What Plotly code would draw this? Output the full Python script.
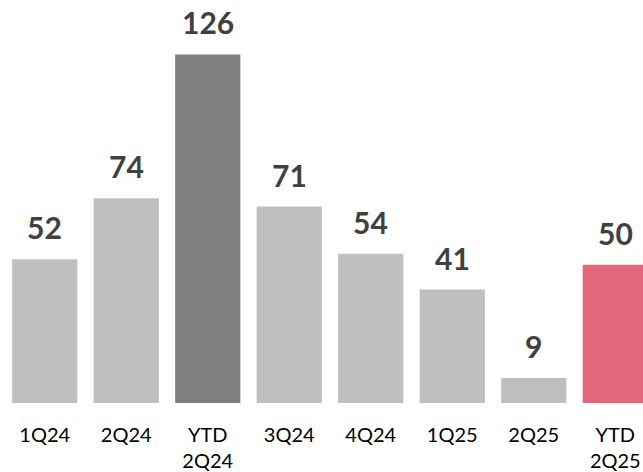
import plotly.graph_objects as go

categories = ["1Q24", "2Q24", "YTD<br>2Q24", "3Q24", "4Q24", "1Q25", "2Q25", "YTD<br>2Q25"]
values = [52, 74, 126, 71, 54, 41, 9, 50]
colors = ["#bfbfbf", "#bfbfbf", "#7f7f7f", "#bfbfbf", "#bfbfbf", "#bfbfbf", "#bfbfbf", "#e4667a"]

x = list(range(len(categories)))

fig = go.Figure(go.Bar(x=x, y=values, marker=dict(color=colors, line=dict(width=0)),
                       hoverinfo="skip"))

for xi, v in zip(x, values):
    fig.add_annotation(x=xi, y=v, text=f"<b>{v}</b>", showarrow=False,
                       yanchor="bottom", yshift=12,
                       font=dict(family="Lato", size=30, color="#404040"))

fig.update_layout(
    width=643, height=472,
    margin=dict(l=4, r=0, t=0, b=66),
    paper_bgcolor="white", plot_bgcolor="white",
    bargap=0.2, showlegend=False,
    font=dict(family="Lato", color="#000000"),
)
fig.update_xaxes(range=[-0.5, 7.34], tickmode="array", tickvals=x, ticktext=categories,
                 showgrid=False, zeroline=False, showline=False, ticks="",
                 ticklabelstandoff=18,
                 tickfont=dict(family="Lato", size=20, color="#000000"))
fig.update_yaxes(range=[0, 145.7], visible=False)

fig.write_html("out.html")
